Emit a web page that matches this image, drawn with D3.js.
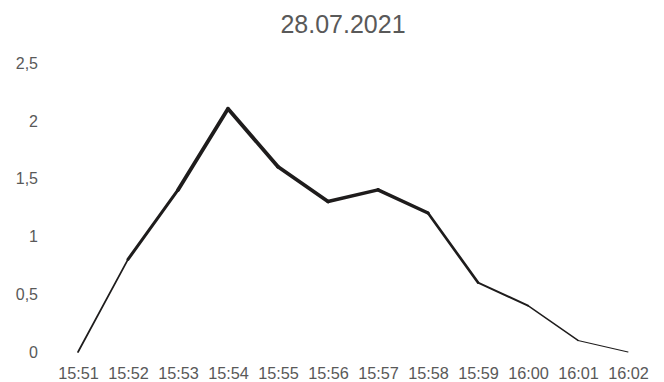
<!DOCTYPE html>
<html><head><meta charset="utf-8">
<script src="https://cdn.jsdelivr.net/npm/d3@7"></script>
<style>
html,body{margin:0;padding:0;background:#fff;}
svg{display:block;font-family:"Liberation Sans",Arial,Helvetica,sans-serif;}
</style></head>
<body>
<svg id="chart" width="664" height="382"></svg>
<script>
const title = "28.07.2021";
const categories = ["15:51","15:52","15:53","15:54","15:55","15:56","15:57","15:58","15:59","16:00","16:01","16:02"];
const values = [0, 0.8, 1.4, 2.1, 1.6, 1.3, 1.4, 1.2, 0.6, 0.4, 0.1, 0.0];
const yTicks = [0, 0.5, 1, 1.5, 2, 2.5];

const svg = d3.select("#chart");
const x = d3.scalePoint().domain(categories).range([78, 628]);
const y = d3.scaleLinear().domain([0, 2.5]).range([352, 62.5]);
const widthScale = d3.scaleLinear().domain([0, 1.5]).range([1, 3.8]).clamp(true);

svg.append("text")
  .attr("x", 343).attr("y", 33)
  .attr("text-anchor", "middle")
  .attr("font-size", 25)
  .attr("fill", "#595959")
  .text(title);

const fmt = v => String(v).replace(".", ",");

const yAxis = svg.append("g").attr("transform", "translate(38,0)")
  .call(d3.axisLeft(y).tickValues(yTicks).tickFormat(fmt).tickSize(0).tickPadding(0));
yAxis.select(".domain").remove();
yAxis.selectAll("text").attr("font-size", 16).attr("fill", "#595959")
  .attr("font-family", "Liberation Sans, Arial, sans-serif").attr("dy", "0.35em");

const xAxis = svg.append("g").attr("transform", "translate(0,367)")
  .call(d3.axisBottom(x).tickSize(0).tickPadding(0));
xAxis.select(".domain").remove();
xAxis.selectAll("text").attr("font-size", 16.3).attr("fill", "#595959")
  .attr("font-family", "Liberation Sans, Arial, sans-serif").attr("dy", "0.72em");

const segs = d3.pairs(values.map((v, i) => ({c: categories[i], v})));
svg.append("g").selectAll("line").data(segs).join("line")
  .attr("x1", d => x(d[0].c)).attr("y1", d => y(d[0].v))
  .attr("x2", d => x(d[1].c)).attr("y2", d => y(d[1].v))
  .attr("stroke", "#1e1c1c")
  .attr("stroke-linecap", "round")
  .attr("stroke-width", d => widthScale((d[0].v + d[1].v) / 2));
</script>
</body></html>
